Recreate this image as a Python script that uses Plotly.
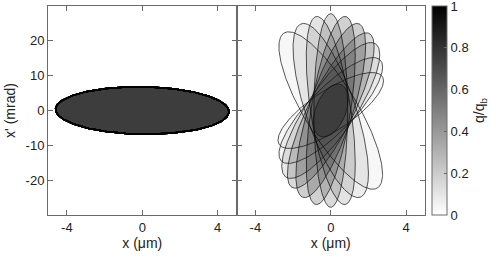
import numpy as np
import plotly.graph_objects as go
from plotly.subplots import make_subplots

# ---- data: slice phase-space ellipses (right panel) ----
slice_half_width_um = [2.75, 2.0, 1.3, 0.9, 1.3, 1.85, 2.3, 2.6, 2.75, 2.8, 0.93]
slice_half_angle_mrad = [22.6, 25.0, 27.0, 27.8, 27.0, 25.0, 22.3, 19.5, 15.2, 10.9, 7.6]
slice_correlation = [-0.81, -0.72, -0.56, 0.0, 0.58, 0.75, 0.82, 0.82, 0.82, 0.78, 0.42]
slice_charge = [0.03, 0.07, 0.11, 0.15, 0.18, 0.19, 0.15, 0.09, 0.05, 0.03, 0.23]

# ---- data: initial ellipse shared by all slices (left panel) ----
init_half_width_um = 4.6
init_half_angle_mrad = 6.8
init_correlation = -0.05

# ---- ticks ----
x_tick_vals = [-4, 0, 4]
x_tick_text = ["-4", "0", "4"]
y_tick_vals = [-20, -10, 0, 10, 20]
y_tick_text = ["-20", "-10", "0", "10", "20"]
cbar_tick_vals = [0, 0.2, 0.4, 0.6, 0.8, 1]
cbar_tick_text = ["0", "0.2", "0.4", "0.6", "0.8", "1"]

FONT = "Liberation Sans, Arial, Helvetica, sans-serif"
AX = "#6a6a6a"


def ellipse(hw, ha, r, n=240):
    t = np.linspace(0, 2 * np.pi, n)
    x = hw * np.cos(t)
    y = ha * (r * np.cos(t) + np.sqrt(1 - r * r) * np.sin(t))
    return x, y


fig = make_subplots(rows=1, cols=2, horizontal_spacing=0)

# left panel: every slice sits on the same initial ellipse
for q in slice_charge:
    ex, ey = ellipse(init_half_width_um, init_half_angle_mrad, init_correlation)
    fig.add_trace(go.Scatter(x=ex, y=ey, mode="lines", fill="toself",
                             fillcolor=f"rgba(0,0,0,{q})",
                             line=dict(color="rgba(0,0,0,0.9)", width=1.5),
                             hoverinfo="skip", showlegend=False), row=1, col=1)

# right panel: rotated slice ellipses
for hw, ha, r, q in zip(slice_half_width_um, slice_half_angle_mrad,
                        slice_correlation, slice_charge):
    ex, ey = ellipse(hw, ha, r)
    fig.add_trace(go.Scatter(x=ex, y=ey, mode="lines", fill="toself",
                             fillcolor=f"rgba(0,0,0,{q})",
                             line=dict(color="rgba(20,20,20,0.9)", width=0.8),
                             hoverinfo="skip", showlegend=False), row=1, col=2)

# colorbar carrier (point outside visible range)
fig.add_trace(go.Scatter(
    x=[100], y=[100], mode="markers", hoverinfo="skip", showlegend=False,
    marker=dict(color=[0.5], cmin=0, cmax=1,
                colorscale=[[0, "rgb(255,255,255)"], [1, "rgb(0,0,0)"]],
                showscale=True,
                colorbar=dict(x=(432 - 48) / 377, xanchor="left", xpad=0,
                              y=0.5, yanchor="middle", ypad=0, len=1,
                              thickness=15, outlinecolor=AX, outlinewidth=1,
                              tickmode="array",
                              tickvals=cbar_tick_vals, ticktext=cbar_tick_text,
                              ticklabeloverflow="allow",
                              ticks="inside", ticklen=3, tickcolor=AX,
                              tickfont=dict(size=13, color="#222", family=FONT),
                              title=dict(text="q/q<sub>b</sub>", side="right",
                                         font=dict(size=14, color="#222", family=FONT)))),
), row=1, col=2)

axis_common = dict(range=[-5, 5], showgrid=False, zeroline=False, showline=True,
                   linecolor=AX, linewidth=1, mirror="ticks", ticks="inside",
                   ticklen=5, tickcolor=AX, tickvals=x_tick_vals, ticktext=x_tick_text,
                   tickfont=dict(size=13, color="#222", family=FONT),
                   title=dict(text="x (μm)", font=dict(size=14, color="#222", family=FONT),
                              standoff=4))
fig.update_xaxes(**axis_common)
fig.update_xaxes(domain=[0, 0.5], row=1, col=1)
fig.update_xaxes(domain=[0.5, 1], row=1, col=2)

yaxis_common = dict(range=[-30, 30], showgrid=False, zeroline=False, showline=True,
                    linecolor=AX, linewidth=1, mirror="ticks", ticks="inside",
                    ticklen=5, tickcolor=AX, tickvals=y_tick_vals, ticktext=y_tick_text,
                    tickfont=dict(size=13, color="#222", family=FONT))
fig.update_yaxes(**yaxis_common)
fig.update_yaxes(title=dict(text="x' (mrad)", font=dict(size=14, color="#222", family=FONT),
                            standoff=6), row=1, col=1)
fig.update_yaxes(showticklabels=False, row=1, col=2)

fig.update_layout(width=497, height=258, margin=dict(l=48, r=72, t=6, b=43),
                  paper_bgcolor="white", plot_bgcolor="white",
                  font=dict(family=FONT, color="#222"), showlegend=False)

fig.write_html("out.html", config={"displayModeBar": False},
               post_script="document.body.style.margin='0px';")
